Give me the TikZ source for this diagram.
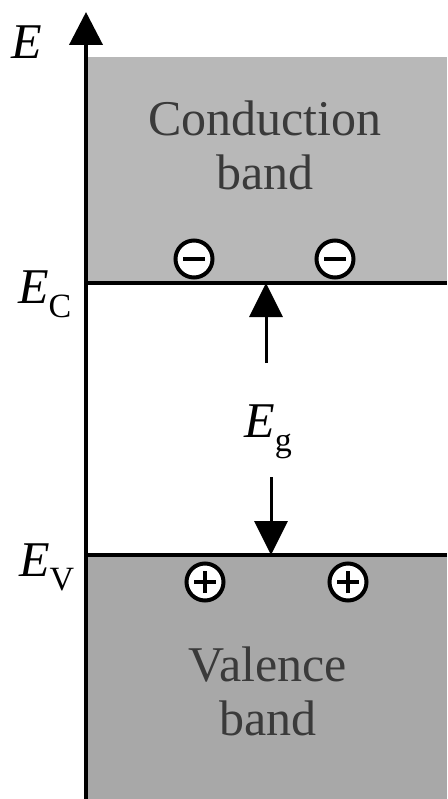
\documentclass[tikz,border=0pt]{standalone}
\usepackage{fontspec}
\setmainfont{Liberation Serif}
\usetikzlibrary{arrows.meta}
\newcommand\lowsub[1]{\raisebox{-0.28em}{\fontsize{34}{34}\selectfont #1}}
\definecolor{cband}{HTML}{B8B8B8}
\definecolor{vband}{HTML}{A8A8A8}
\definecolor{btext}{HTML}{3A3A3A}
\tikzset{
  bandlabel/.style={font=\fontsize{50}{54}\selectfont, text=btext, align=center, inner sep=0pt},
  elabel/.style={font=\fontsize{50}{50}\selectfont, inner sep=0pt},
  level/.style={line width=3.5pt},
  carrier/.style={circle, draw=black, line width=4pt, fill=white, minimum size=37pt, inner sep=0pt},
  sign/.style={line width=4.5pt},
  gaparrow/.style={line width=3pt, -{Triangle[length=34pt,width=33pt]}},
}
\begin{document}
\begin{tikzpicture}[x=1pt,y=-1pt]
\useasboundingbox (0,0) rectangle (447,799);
% bands
\fill[cband] (88,57) rectangle (447,283);
\fill[vband] (88,555) rectangle (447,799);
% axis
\coordinate (axbot) at (86,799);
\coordinate (axtop) at (86,12);
\draw[line width=4pt, -{Triangle[length=33pt,width=33pt]}] (axbot) -- (axtop);
% levels
\coordinate (ecL) at (86,283);
\coordinate (ecR) at (447,283);
\coordinate (evL) at (86,555);
\coordinate (evR) at (447,555);
\draw[level] (ecL) -- (ecR);
\draw[level] (evL) -- (evR);
% labels
\node[elabel] (E) at (27,42) {\itshape E};
\node[elabel, anchor=base west] (EC) at (18,303) {\itshape E\lowsub{\upshape C}};
\node[elabel, anchor=base west] (EV) at (19,576) {\itshape E\lowsub{\upshape V}};
\node[bandlabel] (cb) at (265,145) {Conduction\\band};
\node[bandlabel] (vb) at (268,691) {Valence\\band};
% carriers
\node[carrier] (e1) at (194,259) {};
\node[carrier] (e2) at (335,259) {};
\draw[sign] ([xshift=-11pt]e1.center) -- ([xshift=11pt]e1.center);
\draw[sign] ([xshift=-11pt]e2.center) -- ([xshift=11pt]e2.center);
\node[carrier] (h1) at (205,582) {};
\node[carrier] (h2) at (348,582) {};
\draw[sign] ([xshift=-11pt]h1.center) -- ([xshift=11pt]h1.center);
\draw[sign] ([yshift=-11pt]h1.center) -- ([yshift=11pt]h1.center);
\draw[sign] ([xshift=-11pt]h2.center) -- ([xshift=11pt]h2.center);
\draw[sign] ([yshift=-11pt]h2.center) -- ([yshift=11pt]h2.center);
% gap
\node[elabel, anchor=base] (Eg) at (268,437) {\itshape E\lowsub{\upshape g}};
\coordinate (upstart) at (266,363);
\coordinate (uptip) at (266,283);
\coordinate (dnstart) at (271,477);
\coordinate (dntip) at (271,555);
\draw[gaparrow] (upstart) -- (uptip);
\draw[gaparrow] (dnstart) -- (dntip);
\end{tikzpicture}
\end{document}
